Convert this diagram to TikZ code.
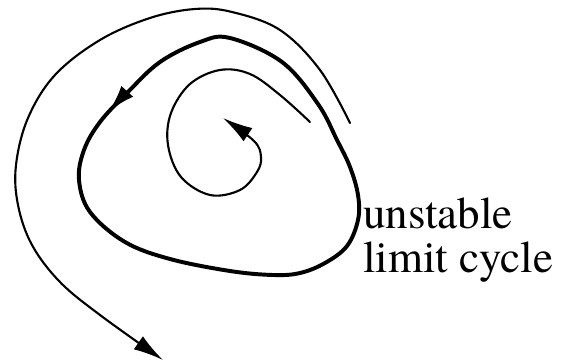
\documentclass[tikz,border=0pt]{standalone}
\usepackage{fontspec}
\setmainfont{texgyretermes}[Extension=.otf, UprightFont=*-regular]
\usetikzlibrary{arrows.meta, decorations.markings}

\begin{document}
\begin{tikzpicture}[
    x=0.025cm, y=-0.025cm,
    traj/.style={line width=1.5pt, line cap=round},
    limitcycle/.style={line width=2.8pt},
    flowtip/.style={-{Latex[length=0.75cm, width=0.4cm]}},
    midtip/.style={postaction={decorate}, decoration={markings,
        mark=at position #1 with {\arrow{Latex[length=0.7cm, width=0.4cm]}}}},
    cyclelabel/.style={align=left, inner sep=0pt, font=\fontsize{32}{32}\selectfont}
]
    \useasboundingbox (0,0) rectangle (561,361);

    % Unstable limit cycle (thick, closed)
    \draw[limitcycle, midtip=0.145] plot[smooth cycle, tension=0.6] coordinates {
        (230,38) (200,42) (160,62) (127,93) (100,122) (84,150) (79,180)
        (90,212) (125,242) (170,259) (230,271) (273,275) (300,273)
        (325,263) (347,246) (358,220) (358,195) (350,167) (337,140)
        (318,104) (282,62)};

    % Outer trajectory, leaving the cycle
    \draw[traj, flowtip] plot[smooth, tension=0.6] coordinates {
        (350,123) (320,70) (280,30) (232,12) (195,9) (150,18) (100,40)
        (55,75) (28,118) (16,165) (18,205) (32,245) (60,282) (100,315)
        (163,360)};

    % Inner trajectory, spiralling in
    \draw[traj, flowtip] plot[smooth, tension=0.6] coordinates {
        (310,122) (280,95) (250,74) (220,70) (190,84) (171,113) (168,145)
        (181,177) (210,195) (240,190) (257,172) (261,157) (254,141)
        (223,118)};

    % Label
    \node[cyclelabel, anchor=base west] (lbl) at (363,273) {unstable\\limit cycle};
\end{tikzpicture}
\end{document}
